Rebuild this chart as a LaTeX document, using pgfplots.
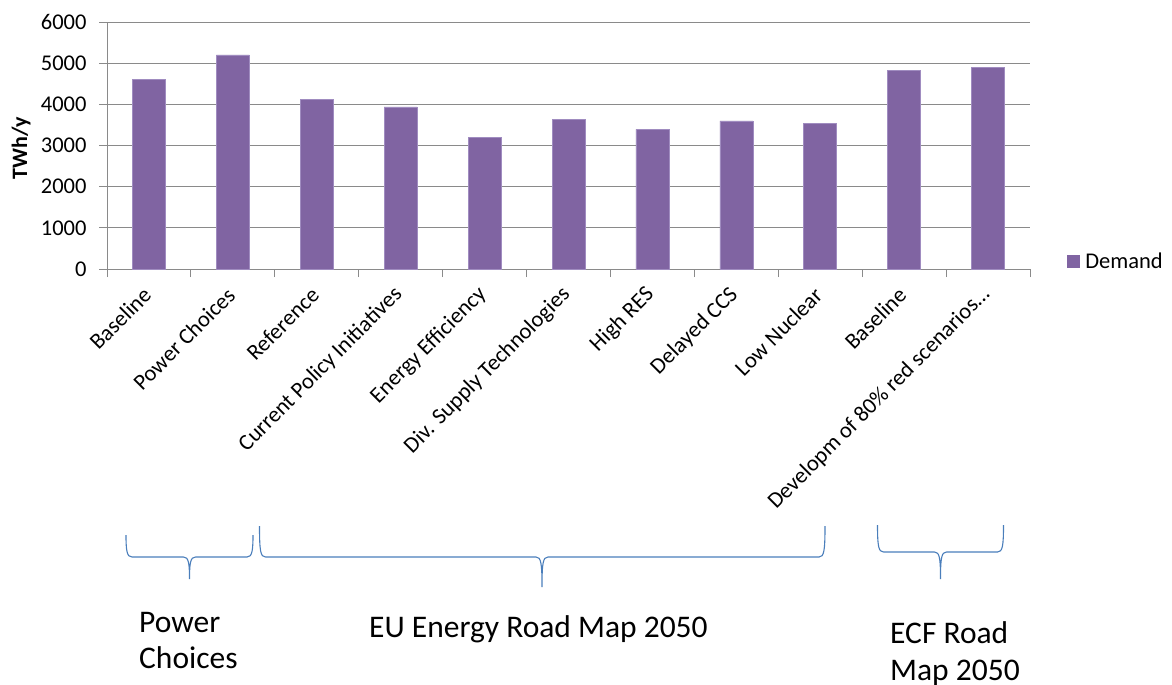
\documentclass[border=0pt]{standalone}
\usepackage{pgfplots}
\pgfplotsset{compat=1.18}
\usepackage{fontspec}
\setmainfont{Carlito}

\definecolor{demand}{HTML}{8064A2}
\definecolor{demandedge}{HTML}{A08CC0}
\definecolor{bracecol}{HTML}{4A7EBB}
\definecolor{gridgray}{HTML}{8A8A8A}

% Office-style curly brace: left x, right x, centre x, top y, bar y, tip y (all in bp, y downwards)
\newcommand{\obrace}[6]{%
  \draw[bracecol, line width=1.1bp]
    (#1bp,-#4bp) .. controls (#1bp,-#5bp+6bp) and (#1bp+1bp,-#5bp) .. (#1bp+6bp,-#5bp)
    -- (#3bp-6bp,-#5bp) .. controls (#3bp-1bp,-#5bp) and (#3bp,-#5bp-6bp) .. (#3bp,-#6bp)
    .. controls (#3bp,-#5bp-6bp) and (#3bp+1bp,-#5bp) .. (#3bp+6bp,-#5bp)
    -- (#2bp-6bp,-#5bp) .. controls (#2bp-1bp,-#5bp) and (#2bp,-#5bp+6bp) .. (#2bp,-#4bp);%
}

\pgfplotstableread{
x  demand
0  4600
1  5200
2  4120
3  3940
4  3200
5  3630
6  3390
7  3600
8  3540
9  4820
10 4900
}\demandtable

\begin{document}
\begin{tikzpicture}
\useasboundingbox (0,0) rectangle (1172bp,-685bp);
\begin{axis}[
  at={(107bp,-269bp)}, anchor=south west,
  scale only axis, width=923bp, height=247bp,
  ybar, bar width=33bp,
  xmin=-0.5, xmax=10.5,
  ymin=0, ymax=6000,
  ytick={0,1000,...,6000},
  xtick={-0.5,0.5,...,10.5},
  x tick label as interval,
  xticklabels={Baseline, Power Choices, Reference, Current Policy Initiatives,
    Energy Efficiency, Div. Supply Technologies, High RES, Delayed CCS,
    Low Nuclear, Baseline, Developm of 80\% red scenarios\ldots},
  x tick label style={rotate=45, anchor=east, xshift=-8bp, yshift=-9bp},
  y tick label style={xshift=-9bp},
  axis x line*=bottom, axis y line*=left,
  axis line style={gridgray, line width=1bp, -},
  tick style={gridgray, line width=1bp},
  tick align=outside, major tick length=8bp,
  ymajorgrids, grid style={gridgray, line width=1bp},
  tick label style={font=\fontsize{22.5bp}{27bp}\selectfont},
  /pgf/number format/assume math mode=true,
  /pgf/number format/1000 sep={},
  ylabel={\textbf{TWh/y}},
  ylabel style={at={(axis description cs:-0.093,0.49)}, anchor=center,
    font=\fontsize{22bp}{26bp}\selectfont},
  legend style={at={(1.0395,0.032)}, anchor=west, draw=none, fill=none,
    font=\fontsize{22.5bp}{27bp}\selectfont, inner sep=0pt},
  legend image code/.code={\fill[demand] (0bp,-6bp) rectangle (12bp,6bp);},
]
\addplot[fill=demand, draw=demandedge, line width=0.6bp] table[x=x, y=demand] {\demandtable};
\addlegendentry{\hspace{4bp}Demand}
\end{axis}

% group braces below the categories
\obrace{126}{253}{189.5}{535}{557}{579}
\obrace{259.5}{825}{542}{526}{557}{587}
\obrace{877.5}{1003.5}{940.5}{525}{552}{579}

% group names
\begin{scope}[every node/.style={inner sep=0pt, font=\fontsize{31.5bp}{37bp}\selectfont}]
\node[anchor=base west] at (139bp,-632bp) {Power};
\node[anchor=base west] at (139bp,-668bp) {Choices};
\node[anchor=base west] at (369bp,-637bp) {EU Energy Road Map 2050};
\node[anchor=base west] at (890bp,-643bp) {ECF Road};
\node[anchor=base west] at (890bp,-680bp) {Map 2050};
\end{scope}
\end{tikzpicture}
\end{document}
